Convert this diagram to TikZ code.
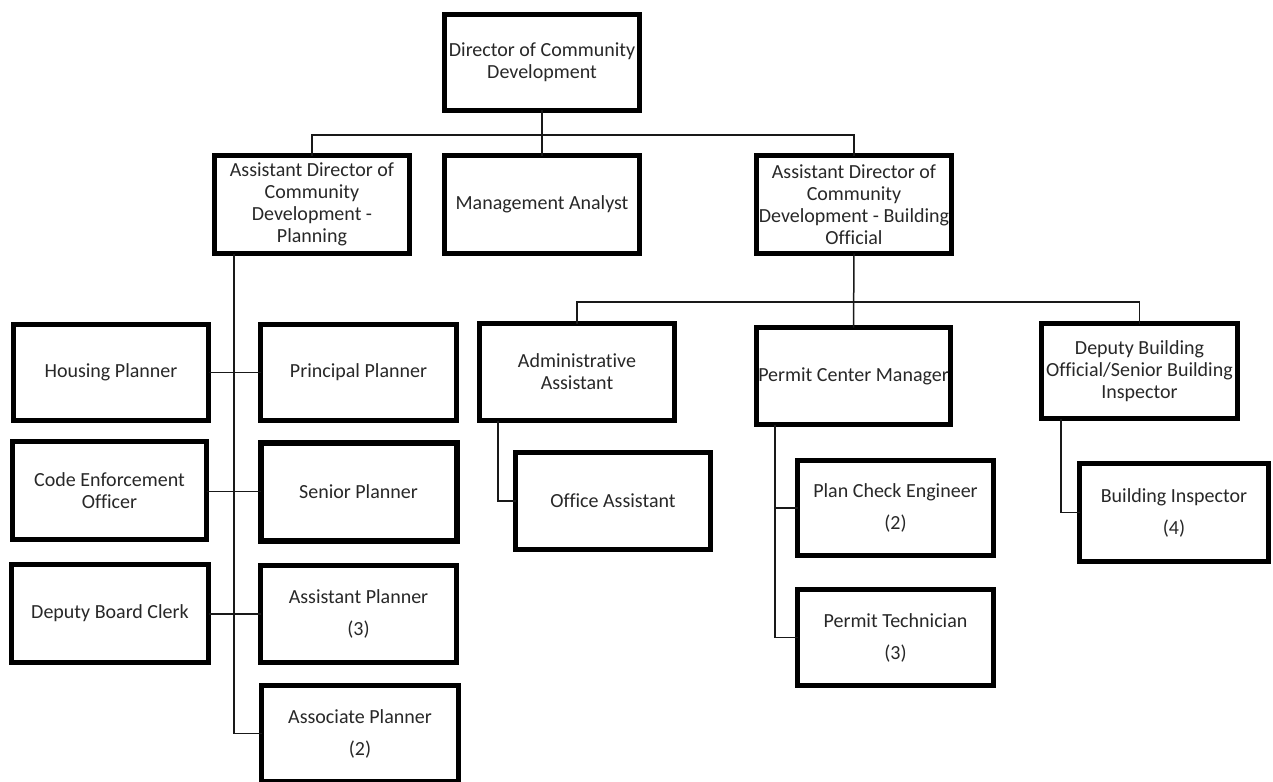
\documentclass[tikz,border=0pt]{standalone}
\usepackage{fontspec}
\setmainfont[Ligatures=NoCommon]{Carlito}
\newcommand{\ovl}[1]{\makebox[0pt][c]{#1}}
\begin{document}
\begin{tikzpicture}[x=1pt,y=-1pt]
\definecolor{txt}{RGB}{40,40,40}
\definecolor{lnc}{RGB}{25,25,25}
\tikzset{
  bx/.style={draw=black, line width=5pt, fill=white, inner sep=0pt, outer sep=0pt,
    align=center, font=\fontsize{20}{22}\selectfont, text=txt},
  ln/.style={line width=1.5pt, draw=lnc}
}
\useasboundingbox (0,0) rectangle (1273,781);
\fill[white] (0,0) rectangle (1273,781);

% top level
\node[bx, minimum width=195, minimum height=96] (dir) at (542,62.5) {Director of Community\\Development};
\node[bx, minimum width=195, minimum height=98] (adp) at (312,204.5) {Assistant Director of\\Community\\Development -\\Planning};
\node[bx, minimum width=195, minimum height=98] (ma) at (542,204.5) {Management Analyst};
\node[bx, minimum width=195, minimum height=98] (adb) at (854,204.5) {Assistant Director of\\Community\\\ovl{Development - Building}\\Official};

% planning side
\node[bx, minimum width=195, minimum height=96] (hp) at (111,372.5) {Housing Planner};
\node[bx, minimum width=196, minimum height=96] (pp) at (358.5,372.5) {Principal Planner};
\node[bx, minimum width=194, minimum height=98] (ceo) at (109.5,490.5) {Code Enforcement\\Officer};
\node[bx, minimum width=196, minimum height=98, line width=6pt] (sp) at (358.5,491.5) {Senior Planner};
\node[bx, minimum width=197, minimum height=98] (dbc) at (110,613.5) {Deputy Board Clerk};
\node[bx, minimum width=196, minimum height=97] (ap) at (358.5,614) {Assistant Planner\\[10pt](3)};
\node[bx, minimum width=197, minimum height=96] (asp) at (360,733.5) {Associate Planner\\[10pt](2)};

% building side
\node[bx, minimum width=195, minimum height=97] (aa) at (577,372) {Administrative\\Assistant};
\node[bx, minimum width=195, minimum height=97] (oa) at (613,501) {Office Assistant};
\node[bx, minimum width=194, minimum height=97] (pcm) at (853.5,376) {\ovl{Permit Center Manager}};
\node[bx, minimum width=196, minimum height=95] (pce) at (895.5,508) {Plan Check Engineer\\[10pt](2)};
\node[bx, minimum width=196, minimum height=96] (pt) at (895.5,637.5) {Permit Technician\\[10pt](3)};
\node[bx, minimum width=196, minimum height=95] (dbo) at (1139.5,371) {Deputy Building\\\ovl{Official/Senior Building}\\Inspector};
\node[bx, minimum width=189, minimum height=98] (bi) at (1174,512.5) {Building Inspector\\[10pt](4)};

% junction coordinates
\coordinate (j1) at (542,135);
\coordinate (j2) at (854,302);
\coordinate (vp) at (234,0);
\coordinate (va) at (498,0);
\coordinate (vm) at (775,0);
\coordinate (vd) at (1061,0);

% connectors
\draw[ln] (dir.south) -- (ma.north);
\draw[ln] (adp.north) |- (j1) -| (adb.north);
\draw[ln] (adb.south) -- (pcm.north);
\draw[ln] (aa.north) |- (j2) -| (dbo.north);

\draw[ln] (vp |- adp.south) |- (asp.west);
\draw[ln] (hp.east) -- (pp.west);
\draw[ln] (ceo.east |- sp.west) -- (sp.west);
\draw[ln] (dbc.east |- ap.west) -- (ap.west);

\draw[ln] (va |- aa.south) |- (oa.west);
\draw[ln] (vm |- pcm.south) |- (pt.west);
\draw[ln] (vm |- pce.west) -- (pce.west);
\draw[ln] (vd |- dbo.south) |- (bi.west);
\end{tikzpicture}
\end{document}
